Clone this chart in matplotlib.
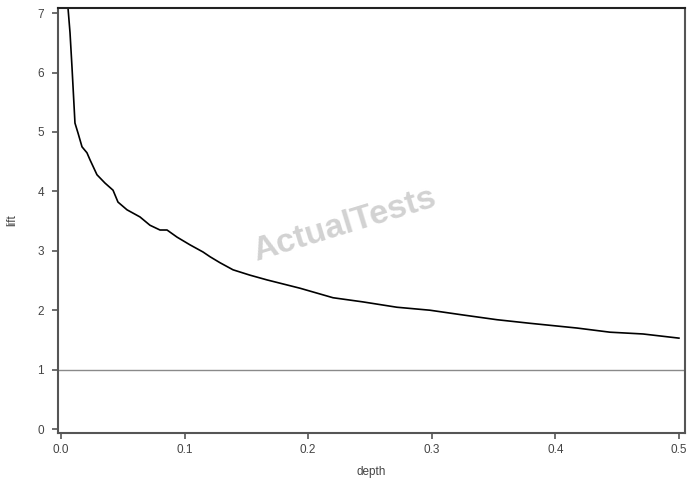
import numpy as np
import matplotlib
matplotlib.use("Agg")
import matplotlib.pyplot as plt

# lift curve
depth = [0.0040, 0.0057, 0.0073, 0.0089, 0.0100, 0.0113, 0.0138, 0.0170, 0.0210,
         0.0235, 0.0291, 0.0356, 0.0421, 0.0461, 0.0534, 0.0639, 0.0720, 0.0801,
         0.0858, 0.0939, 0.1044, 0.1149, 0.1206, 0.1286, 0.1392, 0.1529, 0.1667,
         0.1934, 0.2201, 0.2443, 0.2718, 0.2985, 0.3252, 0.3528, 0.3794, 0.4175,
         0.4442, 0.4709, 0.5000]
lift = [8.00, 7.08, 6.67, 6.09, 5.66, 5.15, 4.98, 4.75, 4.65,
        4.53, 4.28, 4.14, 4.02, 3.82, 3.69, 3.57, 3.43, 3.35,
        3.35, 3.23, 3.10, 2.98, 2.90, 2.80, 2.68, 2.59, 2.51,
        2.37, 2.21, 2.14, 2.05, 2.00, 1.92, 1.84, 1.78, 1.70,
        1.63, 1.60, 1.53]
baseline = 1.0

xticks = [0.0, 0.1, 0.2, 0.3, 0.4, 0.5]
xticklabels = ["0.0", "0.1", "0.2", "0.3", "0.4", "0.5"]
yticks = [0, 1, 2, 3, 4, 5, 6, 7]

plt.rcParams['font.family'] = ['Liberation Sans', 'DejaVu Sans']

fig = plt.figure(figsize=(6.95, 4.90), dpi=100)
ax = fig.add_axes([0.0835, 0.1163, 0.9021, 0.8674])

ax.plot(depth, lift, color="black", lw=1.2)
ax.axhline(baseline, color="#8a8a8a", lw=1.0)

ax.set_xlim(-0.0024, 0.5049)
ax.set_ylim(-0.067, 7.087)
ax.set_xticks(xticks)
ax.set_xticklabels(xticklabels)
ax.set_yticks(yticks)

for s in ax.spines.values():
    s.set_color("#555555")
    s.set_linewidth(1.5)
ax.spines["top"].set_color("#222222")

ax.tick_params(direction="out", length=4, width=1.2, color="#555555",
               labelsize=8.5, labelcolor="#444444", pad=4)
ax.tick_params(axis="y", pad=6)
ax.set_xlabel("depth", fontsize=8.5, color="#444444", labelpad=7)
ax.set_ylabel("lift", fontsize=8.5, color="#444444", labelpad=14)

fig.text(0.495, 0.541, "ActualTests", fontsize=24.5, fontweight="bold",
         color="#d2d2d2", rotation=17, ha="center", va="center")

fig.savefig("out.png", dpi=100)
plt.close()
